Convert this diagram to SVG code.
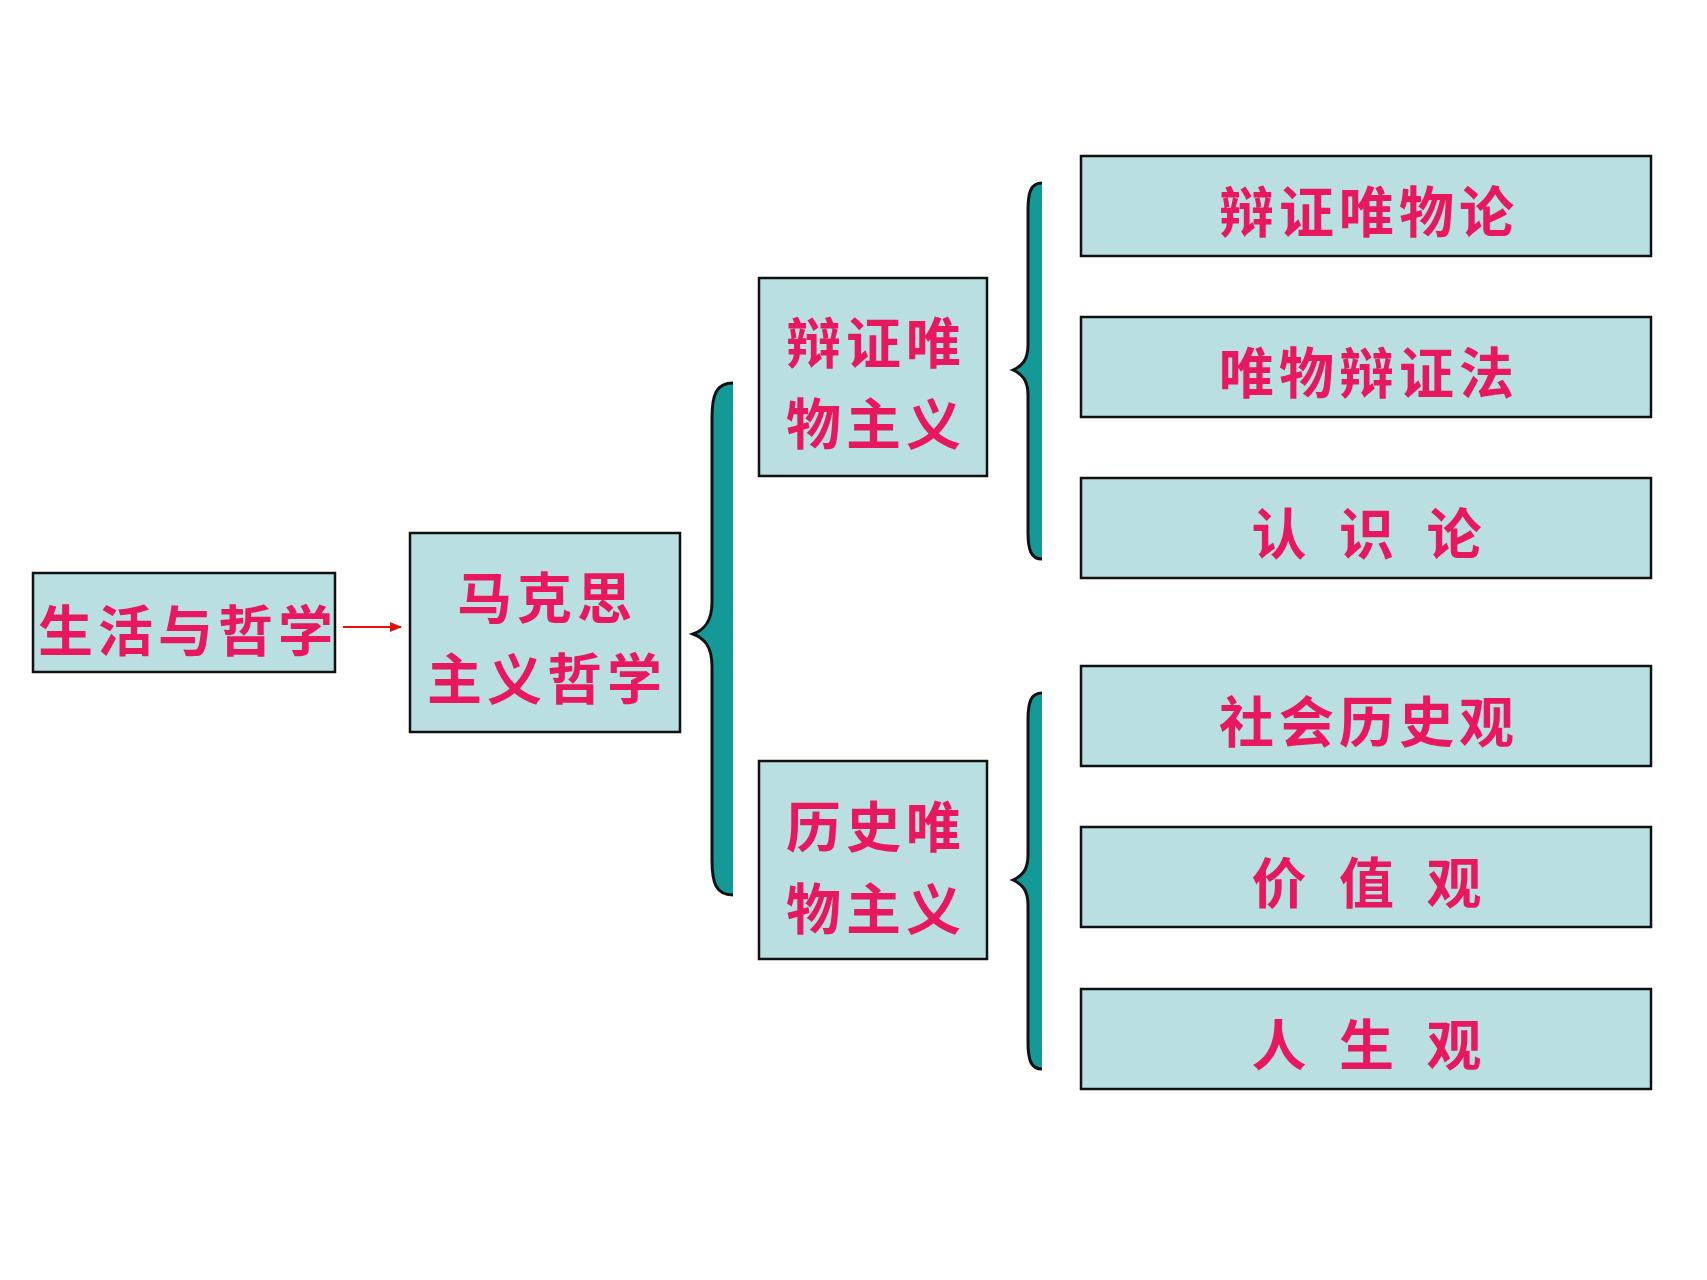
<svg xmlns="http://www.w3.org/2000/svg" width="1707" height="1280" viewBox="0 0 1707 1280">
<style>
.box{fill:#B9DFE0;stroke:#111;stroke-width:2.5}
.t{font-family:"Noto Sans CJK SC","Liberation Sans",sans-serif;font-weight:700;font-size:55px;fill:#E8185F;text-anchor:middle;dominant-baseline:central;letter-spacing:5px}
.bf{fill:#139A98}
.bs{fill:none;stroke:#111;stroke-width:3}
</style>
<defs>
<marker id="ah" markerWidth="12" markerHeight="10" refX="11" refY="5" orient="auto" markerUnits="userSpaceOnUse">
<path d="M0,0 L12,5 L0,10 Z" fill="#E01010"/>
</marker>
</defs>
<rect width="1707" height="1280" fill="#fff"/>
<g id="connectors">
<line x1="343" y1="627" x2="401" y2="627" stroke="#E01010" stroke-width="2" marker-end="url(#ah)"/>
<g id="brace-main">
<path class="bf" d="M733,383 C716,383 712,395 712,418 L712,602 C712,622 704,630 693,634 C704,638 712,646 712,666 L712,860 C712,883 716,895 733,895 Z"/>
<path class="bs" d="M733,383 C716,383 712,395 712,418 L712,602 C712,622 704,630 693,634 C704,638 712,646 712,666 L712,860 C712,883 716,895 733,895"/>
</g>
<g id="brace-top">
<path class="bf" d="M1042,183 C1031,183 1028,192 1028,210 L1028,345 C1028,360 1022,366 1013,370 C1022,374 1028,380 1028,395 L1028,532 C1028,550 1031,559 1042,559 Z"/>
<path class="bs" d="M1042,183 C1031,183 1028,192 1028,210 L1028,345 C1028,360 1022,366 1013,370 C1022,374 1028,380 1028,395 L1028,532 C1028,550 1031,559 1042,559"/>
</g>
<g id="brace-bottom">
<path class="bf" d="M1042,693 C1031,693 1028,702 1028,720 L1028,855 C1028,870 1022,876 1013,880 C1022,884 1028,890 1028,905 L1028,1042 C1028,1060 1031,1069 1042,1069 Z"/>
<path class="bs" d="M1042,693 C1031,693 1028,702 1028,720 L1028,855 C1028,870 1022,876 1013,880 C1022,884 1028,890 1028,905 L1028,1042 C1028,1060 1031,1069 1042,1069"/>
</g>
</g>
<g id="n-life">
<rect class="box" x="33" y="573" width="302" height="99"/>
<text class="t" x="188" y="627">生活与哲学</text>
</g>
<g id="n-marx">
<rect class="box" x="410" y="533" width="270" height="199"/>
<text class="t" x="547" y="594">马克思</text>
<text class="t" x="547" y="675">主义哲学</text>
</g>
<g id="n-dialectical">
<rect class="box" x="759" y="278" width="228" height="198"/>
<text class="t" x="876" y="339">辩证唯</text>
<text class="t" x="876" y="420">物主义</text>
</g>
<g id="n-historical">
<rect class="box" x="759" y="761" width="228" height="198"/>
<text class="t" x="876" y="823">历史唯</text>
<text class="t" x="876" y="905">物主义</text>
</g>
<g id="n-r1">
<rect class="box" x="1081" y="156" width="570" height="100"/>
<text class="t" x="1369" y="208">辩证唯物论</text>
</g>
<g id="n-r2">
<rect class="box" x="1081" y="317" width="570" height="100"/>
<text class="t" x="1369" y="369">唯物辩证法</text>
</g>
<g id="n-r3">
<rect class="box" x="1081" y="478" width="570" height="100"/>
<text class="t" x="1369" y="530" style="word-spacing:10px">认 识 论</text>
</g>
<g id="n-r4">
<rect class="box" x="1081" y="666" width="570" height="100"/>
<text class="t" x="1369" y="718">社会历史观</text>
</g>
<g id="n-r5">
<rect class="box" x="1081" y="827" width="570" height="100"/>
<text class="t" x="1369" y="879" style="word-spacing:10px">价 值 观</text>
</g>
<g id="n-r6">
<rect class="box" x="1081" y="989" width="570" height="100"/>
<text class="t" x="1369" y="1041" style="word-spacing:10px">人 生 观</text>
</g>
</svg>
